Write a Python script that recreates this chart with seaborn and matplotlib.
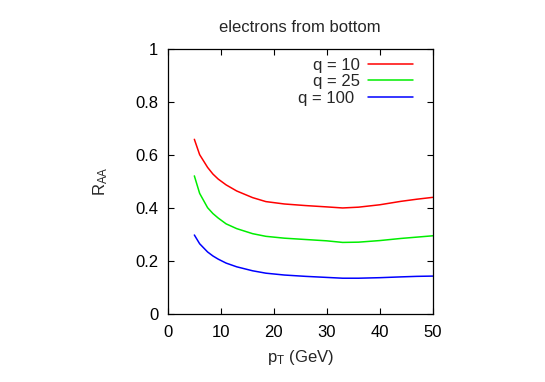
import numpy as np
import pandas as pd
import matplotlib
matplotlib.use("Agg")
import matplotlib.pyplot as plt
import seaborn as sns

# values
pt = [5, 6, 7.5, 8.5, 9.5, 11, 13, 16, 18.5, 22, 26, 30, 33, 36, 40, 44, 47, 50]
raa_q10 = [0.659, 0.601, 0.553, 0.528, 0.509, 0.487, 0.464, 0.439, 0.424, 0.415, 0.409, 0.404, 0.400, 0.403, 0.412, 0.425, 0.433, 0.440]
raa_q25 = [0.521, 0.455, 0.401, 0.379, 0.362, 0.340, 0.322, 0.303, 0.293, 0.286, 0.281, 0.276, 0.270, 0.271, 0.277, 0.285, 0.290, 0.295]
raa_q100 = [0.298, 0.265, 0.234, 0.219, 0.207, 0.192, 0.178, 0.163, 0.154, 0.147, 0.142, 0.138, 0.135, 0.135, 0.137, 0.140, 0.142, 0.143]
labels = ["q = 10", "q = 25", "q = 100"]
colors = ["#ff0000", "#00ee00", "#0000ff"]

df = pd.DataFrame({
    "pt": pt * 3,
    "raa": raa_q10 + raa_q25 + raa_q100,
    "q": [labels[0]] * len(pt) + [labels[1]] * len(pt) + [labels[2]] * len(pt),
})

sns.set_style("ticks")
plt.rcParams['font.family'] = ['Liberation Sans', 'DejaVu Sans']
plt.rcParams['mathtext.fontset'] = 'custom'
plt.rcParams['mathtext.rm'] = 'Liberation Sans'
plt.rcParams['mathtext.it'] = 'Liberation Sans'

fs = 12

fig = plt.figure(figsize=(5.45, 3.82), dpi=100)
ax = fig.add_axes([0.308, 0.178, 0.486, 0.694])

sns.lineplot(data=df, x="pt", y="raa", hue="q", palette=colors,
             linewidth=1.1, ax=ax, legend=True)

ax.set_xlim(0, 50)
ax.set_ylim(0, 1)
ax.set_xticks([0, 10, 20, 30, 40, 50])
ax.set_yticks([0, 0.2, 0.4, 0.6, 0.8, 1])
ax.set_yticklabels(["0", "0.2", "0.4", "0.6", "0.8", "1"])
ax.tick_params(direction="in", length=4, width=0.8, labelsize=fs,
               top=True, right=True, colors="black")
ax.tick_params(axis="x", pad=8)
ax.tick_params(axis="y", pad=7)
for s in ax.spines.values():
    s.set_visible(True)
    s.set_linewidth(0.9)
    s.set_color("black")

ax.set_xlabel(r"p$_\mathrm{T}$ (GeV)", fontsize=fs, labelpad=6)
ax.set_ylabel(r"R$_\mathrm{AA}$", fontsize=fs, labelpad=18)
ax.set_title("electrons from bottom", fontsize=fs, pad=12)

leg = ax.legend(loc="upper right", frameon=False, markerfirst=False,
                fontsize=fs, handlelength=2.7, labelspacing=0.1,
                handletextpad=0.85, borderaxespad=0.0, borderpad=0.0,
                bbox_to_anchor=(0.925, 0.967), title=None)

# right-justify the legend labels like gnuplot does
fig.canvas.draw()
renderer = fig.canvas.get_renderer()
widths = [t.get_window_extent(renderer).width for t in leg.get_texts()]
for t, w in zip(leg.get_texts(), widths):
    t.set_position(((max(widths) - w) * 72.0 / fig.dpi, 0))

fig.savefig("out.png", dpi=100)
plt.close()
